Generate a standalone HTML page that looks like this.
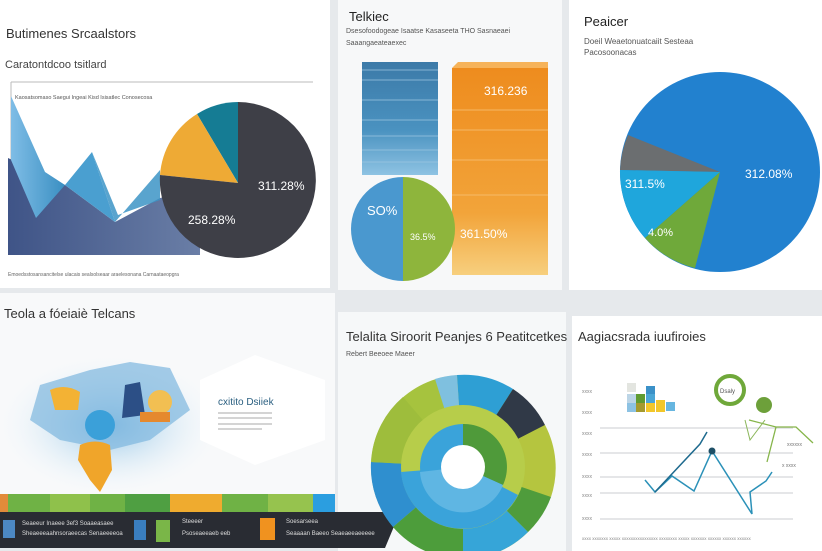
<!DOCTYPE html>
<html><head><meta charset="utf-8"><style>
html,body{margin:0;padding:0;width:822px;height:551px;overflow:hidden;background:#e6e9ec;font-family:"Liberation Sans",sans-serif}
svg{display:block}
</style></head><body>
<svg width="822" height="551" viewBox="0 0 822 551" xmlns="http://www.w3.org/2000/svg" font-family="Liberation Sans, sans-serif">
<defs>
<linearGradient id="da" x1="0" y1="0" x2="1" y2="0"><stop offset="0" stop-color="#3f5487"/><stop offset="1" stop-color="#6a7ea6"/></linearGradient>
<linearGradient id="la" x1="0" y1="0" x2="1" y2="0"><stop offset="0" stop-color="#7fbde6"/><stop offset="1" stop-color="#3a8fc2"/></linearGradient>
<linearGradient id="or" x1="0" y1="0" x2="0" y2="1"><stop offset="0" stop-color="#ee8c1e"/><stop offset="0.7" stop-color="#f2a43a"/><stop offset="1" stop-color="#f7cf7e"/></linearGradient>
<linearGradient id="bl" x1="0" y1="0" x2="0" y2="1"><stop offset="0" stop-color="#3c7aa8"/><stop offset="0.6" stop-color="#4a92c0"/><stop offset="1" stop-color="#8ec3e3"/></linearGradient>
<radialGradient id="map" cx="0.5" cy="0.5" r="0.5"><stop offset="0" stop-color="#8fc3e6"/><stop offset="1" stop-color="#ffffff" stop-opacity="0"/></radialGradient>
</defs>
<rect x="0" y="0" width="330" height="288" fill="#ffffff"/>
<rect x="338" y="0" width="224" height="290" fill="#f7f8f9"/>
<rect x="569" y="0" width="253" height="290" fill="#ffffff"/>
<rect x="0" y="293" width="335" height="220" fill="#f8f9fa"/>
<rect x="338" y="312" width="228" height="239" fill="#f6f8f9"/>
<rect x="572" y="316" width="250" height="235" fill="#ffffff"/>

<text x="6" y="38" font-size="13" fill="#333">Butimenes Srcaalstors</text>
<text x="5" y="68" font-size="11" fill="#444">Caratontdcoo tsitlard</text>
<line x1="11" y1="82" x2="313" y2="82" stroke="#bbb"/>
<line x1="11" y1="82" x2="11" y2="255" stroke="#bbb"/>
<text x="15" y="99" font-size="5.5" fill="#555">Kaosatsomaso Saegui Ingeai Kisd Isisatlec Conosecosa</text>
<polygon points="8,158 65,185 115,222 160,198 200,190 200,255 8,255" fill="url(#da)"/>
<polygon points="11,96 45,172 65,185 36,218 11,160" fill="url(#la)"/>
<polygon points="65,185 92,152 115,222" fill="#4a9fd0"/>
<polygon points="92,152 115,222 160,170 160,200 118,215" fill="#3c94c6" opacity="0.85"/>
<path d="M238,183 L238,102 A78,78 0 0 0 197,114 Z" fill="#157c94"/>
<path d="M238,183 L197,114 A78,78 0 0 0 160,175 Z" fill="#eeaa35"/>
<path d="M238,183 L160,175 A78,78 0 1 0 238,102 Z" fill="#3e3f47"/>
<text x="258" y="190" font-size="12" fill="#fff">311.28%</text>
<text x="188" y="224" font-size="12" fill="#fff">258.28%</text>
<text x="8" y="276" font-size="5" fill="#666">Emoedsstosansancitelse ulacais sealsolseaar araelesonana Carnaataeopgra</text>

<text x="349" y="21" font-size="13" fill="#222">Telkiec</text>
<text x="346" y="33" font-size="7" fill="#555">Dsesofoodogeae Isaatse Kasaseeta THO Sasnaeaei</text>
<text x="346" y="45" font-size="7" fill="#555">Saaangaeateaexec</text>
<rect x="362" y="62" width="76" height="113" fill="url(#bl)"/>
<g stroke="#9cc6e0" stroke-width="0.7"><line x1="362" y1="70" x2="438" y2="70"/><line x1="362" y1="80" x2="438" y2="80"/><line x1="362" y1="100" x2="438" y2="100"/><line x1="362" y1="120" x2="438" y2="120"/><line x1="362" y1="136" x2="438" y2="136"/><line x1="362" y1="150" x2="438" y2="150"/><line x1="362" y1="162" x2="438" y2="162"/></g>
<rect x="452" y="68" width="96" height="207" fill="url(#or)"/>
<polygon points="452,68 458,62 548,62 548,68" fill="#f6b35a"/>
<g stroke="#f7c37a" stroke-width="0.7"><line x1="452" y1="110" x2="548" y2="110"/><line x1="452" y1="130" x2="548" y2="130"/><line x1="452" y1="160" x2="548" y2="160"/><line x1="452" y1="195" x2="548" y2="195"/></g>
<text x="484" y="95" font-size="12" fill="#fff">316.236</text>
<text x="460" y="238" font-size="12" fill="#fff">361.50%</text>
<path d="M403,177 A52,52 0 0 1 403,281 Z" fill="#8eb53c"/>
<path d="M403,177 A52,52 0 0 0 403,281 Z" fill="#4a98cf"/>
<text x="367" y="215" font-size="13" fill="#fff">SO%</text>
<text x="410" y="240" font-size="9" fill="#fff">36.5%</text>

<text x="584" y="26" font-size="13" fill="#222">Peaicer</text>
<text x="584" y="44" font-size="8" fill="#555">Doeil Weaetonuatcaiit Sesteaa</text>
<text x="584" y="55" font-size="8" fill="#555">Pacosoonacas</text>
<circle cx="720" cy="172" r="100" fill="#2281cf"/>
<path d="M720,172 L628,135 A100,100 0 0 0 620,170 Z" fill="#6b6e70"/>
<path d="M720,172 L620,170 A100,100 0 0 0 645,238 Z" fill="#1fa6dc"/>
<path d="M720,172 L645,238 A100,100 0 0 0 695,268 Z" fill="#6fa93a"/>
<text x="745" y="178" font-size="12" fill="#fff">312.08%</text>
<text x="625" y="188" font-size="12" fill="#fff">311.5%</text>
<text x="648" y="236" font-size="11" fill="#fff">4.0%</text>

<text x="4" y="318" font-size="13" fill="#333">Teola a fóeiaiè Telcans</text>
<ellipse cx="110" cy="425" rx="120" ry="75" fill="url(#map)"/>
<polygon points="40,385 90,370 130,362 170,368 190,410 150,440 110,450 60,440 30,420" fill="#7eb6de" opacity="0.7"/>
<path d="M80,445 Q95,438 110,445 L112,470 L100,492 L90,480 L78,460 Z" fill="#f0a52a"/>
<path d="M50,390 Q65,383 80,392 L78,410 L55,410 Z" fill="#f3b234"/>
<path d="M125,385 L140,382 L145,415 L122,418 Z" fill="#2c4f86"/>
<circle cx="100" cy="425" r="15" fill="#3ba0d9"/>
<circle cx="160" cy="402" r="12" fill="#f2bf52"/>
<rect x="140" y="412" width="30" height="10" fill="#e5892e"/>
<polygon points="200,380 255,355 325,380 325,440 255,465 200,440" fill="#ffffff"/>
<text x="218" y="405" font-size="10" fill="#2a5f80">cxitito Dsiiek</text>
<g stroke="#aaa" stroke-width="1"><line x1="218" y1="413" x2="272" y2="413"/><line x1="218" y1="418" x2="272" y2="418"/><line x1="218" y1="424" x2="272" y2="424"/><line x1="218" y1="429" x2="262" y2="429"/></g>
<rect x="0" y="494" width="335" height="18" fill="#6fb245"/>
<rect x="0" y="494" width="8" height="18" fill="#e28b3a"/>
<rect x="50" y="494" width="40" height="18" fill="#8fc14b"/>
<rect x="125" y="494" width="45" height="18" fill="#4f9f42"/>
<rect x="170" y="494" width="52" height="18" fill="#efab2f"/>
<rect x="268" y="494" width="45" height="18" fill="#96c34e"/>
<rect x="313" y="494" width="22" height="18" fill="#2b9ee0"/>
<polygon points="0,512 400,512 385,548 0,548" fill="#292c33"/>
<rect x="3" y="520" width="12" height="18" fill="#4c88c3"/>
<text x="22" y="525" font-size="6" fill="#ddd">Seaeeur Inaeee 3ef3 Soaaeasaee</text>
<text x="22" y="535" font-size="6" fill="#ddd">Sheaeeeaahnsoraeecas Senaeeeeoa</text>
<rect x="134" y="520" width="12" height="20" fill="#3a7ebf"/>
<rect x="156" y="520" width="14" height="22" fill="#7ab648"/>
<text x="182" y="523" font-size="6" fill="#ddd">Steeeer</text>
<text x="182" y="535" font-size="6" fill="#ddd">Psoseaeeaeb eeb</text>
<rect x="260" y="518" width="15" height="22" fill="#f0921f"/>
<text x="286" y="523" font-size="6" fill="#ddd">Soesarseea</text>
<text x="286" y="535" font-size="6" fill="#ddd">Seaaaan Baeeo Seaeaeeaeeeee</text>

<text x="346" y="341" font-size="13" fill="#333">Telalita Siroorit Peanjes 6 Peatitcetkes</text>
<text x="346" y="356" font-size="7" fill="#555">Rebert Beeoee Maeer</text>
<g transform="translate(463,467)">
<circle r="92" fill="#a6c33e"/>
<path d="M0,0 L-6,-92 A92,92 0 0 1 50,-78 Z" fill="#2e9fd4"/>
<path d="M0,0 L50,-78 A92,92 0 0 1 82,-42 Z" fill="#303947"/>
<path d="M0,0 L82,-42 A92,92 0 0 1 88,30 Z" fill="#b5c53f"/>
<path d="M0,0 L88,30 A92,92 0 0 1 65,65 Z" fill="#4f9c3c"/>
<path d="M0,0 L65,65 A92,92 0 0 1 0,92 Z" fill="#36a5d8"/>
<path d="M0,0 L0,92 A92,92 0 0 1 -70,60 Z" fill="#4d9d3b"/>
<path d="M0,0 L-70,60 A92,92 0 0 1 -92,-5 Z" fill="#2f8fcf"/>
<path d="M0,0 L-92,-5 A92,92 0 0 1 -60,-70 Z" fill="#9ebd3c"/>
<path d="M0,0 L-28,-88 A92,92 0 0 1 -6,-92 Z" fill="#7fc0df"/>
<circle r="62" fill="#b7cd4a"/>
<path d="M0,0 L-62,5 A62,62 0 0 0 55,28 Z" fill="#3aa3da"/>
<circle r="43" fill="#3aa3da"/>
<path d="M0,0 L0,-43 A43,43 0 0 1 40,18 Z" fill="#4f9a3a"/>
<path d="M0,0 L40,18 A43,43 0 0 1 -43,5 Z" fill="#5fb6e3"/>
<circle r="22" fill="#ffffff"/>
</g>

<text x="578" y="341" font-size="13" fill="#333">Aagiacsrada iuufiroies</text>
<g stroke="#d5d8db" stroke-width="1.3"><line x1="600" y1="428" x2="793" y2="428"/><line x1="600" y1="453" x2="793" y2="453"/><line x1="600" y1="477" x2="793" y2="477"/><line x1="600" y1="493" x2="793" y2="493"/><line x1="600" y1="519" x2="793" y2="519"/></g>
<g font-size="5" fill="#888"><text x="582" y="393">xxxx</text><text x="582" y="414">xxxx</text><text x="582" y="435">xxxx</text><text x="582" y="456">xxxx</text><text x="582" y="478">xxxx</text><text x="582" y="497">xxxx</text><text x="582" y="520">xxxx</text></g>
<text x="582" y="540" font-size="4.5" fill="#888">xxxx xxxxxxx xxxxx xxxxxxxxxxxxxxxx xxxxxxxx xxxxx xxxxxxx xxxxxx xxxxxx xxxxxx</text>
<polyline points="645,480 655,492 672,476 694,491 712,451 752,514 750,492 766,481 772,472" fill="none" stroke="#2b91b8" stroke-width="1.5"/>
<polyline points="655,492 700,444 707,432" fill="none" stroke="#1e6a8e" stroke-width="1.5"/>
<polyline points="749,420 776,427 796,427 813,443" fill="none" stroke="#86b54a" stroke-width="1.3"/>
<polyline points="776,427 767,462" fill="none" stroke="#86b54a" stroke-width="1.3"/>
<polyline points="745,420 750,440 765,420" fill="none" stroke="#8bb65a" stroke-width="1"/>
<circle cx="712" cy="451" r="3.5" fill="#1e4f66"/>
<circle cx="730" cy="390" r="14" fill="none" stroke="#6fa83a" stroke-width="4"/>
<text x="720" y="393" font-size="6" fill="#555">Dsaly</text>
<circle cx="764" cy="405" r="8" fill="#6da03a"/>
<rect x="627" y="383" width="9" height="9" fill="#e3e5e0"/><rect x="646" y="386" width="9" height="9" fill="#3b91c8"/>
<rect x="627" y="394" width="9" height="9" fill="#bcd5e6"/><rect x="636" y="394" width="9" height="9" fill="#5f9b30"/><rect x="646" y="394" width="9" height="9" fill="#4aa6d6"/>
<rect x="627" y="403" width="9" height="9" fill="#8cc2e3"/><rect x="636" y="403" width="9" height="9" fill="#a59a2e"/><rect x="646" y="403" width="9" height="9" fill="#f2c72a"/><rect x="656" y="400" width="9" height="12" fill="#f2c72a"/><rect x="666" y="402" width="9" height="9" fill="#67b6e0"/>
<text x="787" y="446" font-size="5" fill="#777">xxxxxx</text>
<text x="782" y="467" font-size="5" fill="#777">x xxxx</text>
</svg>
</body></html>
